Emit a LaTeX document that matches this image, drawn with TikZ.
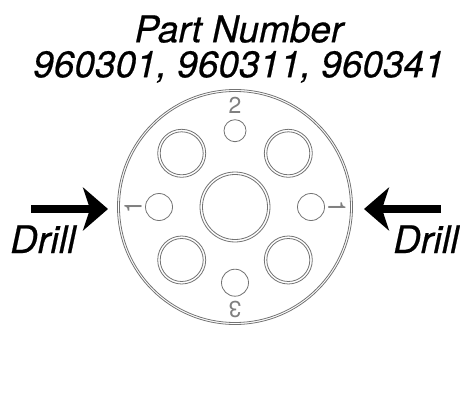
\documentclass[tikz,border=0pt]{standalone}
\usepackage{fontspec}
\setmainfont{TeX Gyre Heros}[ItalicFeatures={FakeBold=0.5}]
\usepackage{tikz}
\usetikzlibrary{positioning, arrows.meta}

\begin{document}
\begin{tikzpicture}[
    x=1pt, y=1pt,
    ring/.style = {circle, draw=black!55, line width=0.8pt, minimum size=#1,
                  inner sep=0pt, outer sep=0pt},
    ring/.default = 20pt
    ]
            % styles
            \tikzstyle{arrow} = [line width=8pt,-{Stealth[length=25pt,width=43pt,inset=7pt]},draw=black]
            \tikzstyle{title} = [font=\fontsize{37}{35}\selectfont\itshape, align=center, inner sep=0pt]
            \tikzstyle{drilltext} = [font=\fontsize{38}{38}\selectfont\itshape, inner sep=0pt, anchor=base]
            \tikzstyle{digit} = [font=\fontsize{23}{23}\selectfont, text=black!50, inner sep=0pt]

            \useasboundingbox (0,0) rectangle (460,413);

            \node (title) [title] at (239,364) {Part Number\\960301, 960311, 960341};

            % flange
            \node (flange) [ring=235pt] at (235,206) {};
            \node (flangein) [ring=231pt] at (flange) {};
            \node (bore) [ring=70pt] at (flange) {};
            \node (borein) [ring=65pt] at (flange) {};

            % large holes
            \node (holeA) [ring=48pt] at (181.7,259.7) {};
            \node (holeAin) [ring=43pt] at (holeA) {};
            \node (holeB) [ring=48pt] at (288.3,259.7) {};
            \node (holeBin) [ring=43pt] at (holeB) {};
            \node (holeC) [ring=48pt] at (181.7,153) {};
            \node (holeCin) [ring=43pt] at (holeC) {};
            \node (holeD) [ring=48pt] at (288.3,153) {};
            \node (holeDin) [ring=43pt] at (holeD) {};

            % small holes
            \node (pintop) [ring=22pt] at (235,282.3) {};
            \node (pinbot) [ring=27pt] at (235,130.3) {};
            \node (pinleft) [ring=27pt] at (159,206) {};
            \node (pinright) [ring=27pt] at (311,206) {};

            % digits
            \node (digittop) [digit] at (235,308) {2};
            \node (digitbot) [digit, rotate=180] at (235,104) {3};
            \node (digitleft) [digit, rotate=90] at (133,206) {\scalebox{1}[1.05]{1}};
            \node (digitright) [digit, rotate=-90] at (337,206) {\scalebox{1}[1.05]{1}};

            % drills
            \coordinate (startleft) at (31,204);
            \coordinate (tipleft) at (108,204);
            \coordinate (startright) at (441,204);
            \coordinate (tipright) at (364,204);
            \draw [arrow] (startleft) -- (tipleft);
            \draw [arrow] (startright) -- (tipright);
            \node (drillleft) [drilltext] at (43,160) {Drill};
            \node (drillright) [drilltext] at (426,160) {Drill};
    \end{tikzpicture}
\end{document}
